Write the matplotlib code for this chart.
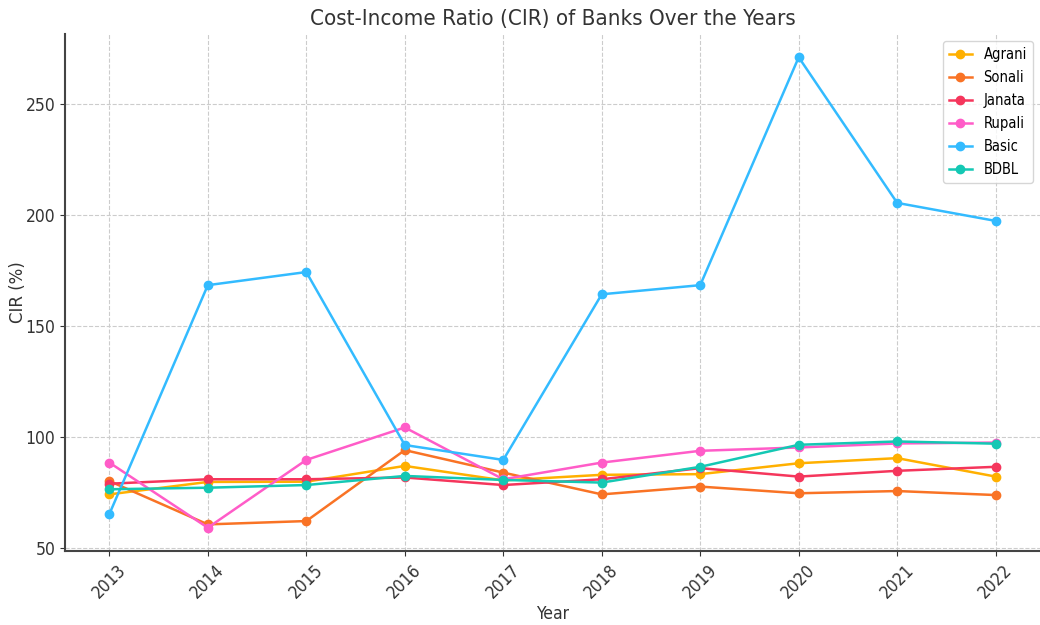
import matplotlib
matplotlib.use("Agg")
import matplotlib.pyplot as plt

plt.rcParams["font.family"] = ["DejaVu Sans"]
plt.rcParams["font.stretch"] = "condensed"

years = [2013, 2014, 2015, 2016, 2017, 2018, 2019, 2020, 2021, 2022]

agrani = [74.2, 79.8, 79.9, 87.0, 80.5, 83.0, 83.3, 88.2, 90.5, 82.2]
sonali = [80.2, 60.7, 62.2, 94.1, 84.0, 74.2, 77.7, 74.7, 75.7, 73.9]
janata = [79.0, 81.0, 81.0, 81.8, 78.4, 81.0, 86.0, 82.2, 84.8, 86.6]
rupali = [88.5, 59.2, 89.7, 104.3, 81.0, 88.5, 93.8, 95.3, 97.1, 97.5]
basic = [65.3, 168.3, 174.2, 96.4, 89.7, 164.2, 168.3, 270.8, 205.3, 197.2]
bdbl = [76.5, 77.2, 78.4, 82.5, 80.7, 79.5, 86.6, 96.5, 98.0, 97.0]

banks = ["Agrani", "Sonali", "Janata", "Rupali", "Basic", "BDBL"]
series = [agrani, sonali, janata, rupali, basic, bdbl]
colors = ["#FFB000", "#F97325", "#F5365C", "#FF5CC8", "#33BBFF", "#14C8B4"]

fig = plt.figure(figsize=(10.4, 6.25), dpi=100)
ax = fig.add_axes([0.0625, 0.118, 0.9375, 0.828])

for name, vals, c in zip(banks, series, colors):
    ax.plot(years, vals, marker="o", color=c, label=name, linewidth=1.8, markersize=6)

ax.set_title("Cost-Income Ratio (CIR) of Banks Over the Years", fontsize=16, color="#333333")
ax.set_xlabel("Year", fontsize=12.5, color="#333333", labelpad=2)
ax.set_ylabel("CIR (%)", fontsize=12, color="#333333", fontstretch="normal")
ax.yaxis.set_label_coords(-0.039, 0.5)
ax.set_xticks(years)
ax.set_xticklabels([str(y) for y in years], rotation=45, fontsize=12.5)
ax.set_yticks([50, 100, 150, 200, 250])
ax.tick_params(axis="y", labelsize=12.5)
ax.tick_params(colors="#333333")
ax.grid(True, linestyle="--", color="#cccccc", linewidth=0.8)
ax.spines["right"].set_visible(False)
ax.spines["top"].set_visible(False)
ax.spines["left"].set_linewidth(1.5)
ax.spines["bottom"].set_linewidth(1.5)
ax.spines["left"].set_color("#444444")
ax.spines["bottom"].set_color("#444444")
ax.legend(loc="upper right", fontsize=10.5, handlelength=1.6, labelspacing=0.55)

fig.savefig("out.png", dpi=100)
